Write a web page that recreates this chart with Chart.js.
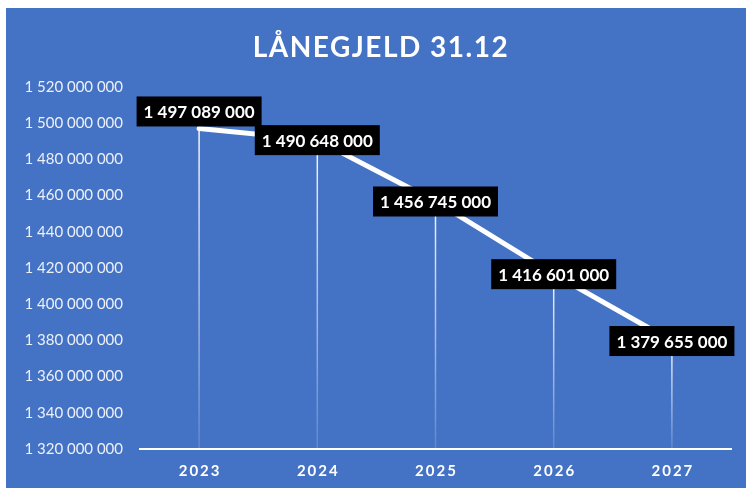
<!DOCTYPE html>
<html>
<head>
<meta charset="utf-8">
<script src="https://cdn.jsdelivr.net/npm/chart.js@4.4.0/dist/chart.umd.min.js"></script>
<style>
  html, body { margin: 0; padding: 0; background: #fff; }
</style>
</head>
<body>
<canvas id="chart" width="746" height="490"></canvas>
<script>
// Data
var chartTitle = 'LÅNEGJELD 31.12';
var years = ['2023', '2024', '2025', '2026', '2027'];
var debt = [1497089000, 1490648000, 1456745000, 1416601000, 1379655000];
var yTicks = [1320000000, 1340000000, 1360000000, 1380000000, 1400000000, 1420000000,
              1440000000, 1460000000, 1480000000, 1500000000, 1520000000];

// 1497089000 -> "1 497 089 000"
function fmt(v) {
    return v.toString().replace(/\B(?=(\d{3})+(?!\d))/g, ' ');
}

var FONT = 'Lato, "Open Sans", sans-serif';
var BLUE = '#4472C4';

// Background + title
var backdrop = {
    id: 'backdrop',
    beforeDraw: function(chart) {
        var ctx = chart.ctx;
        ctx.save();
        ctx.fillStyle = '#ffffff';
        ctx.fillRect(0, 0, chart.width, chart.height);
        ctx.fillStyle = BLUE;
        ctx.fillRect(6, 8, chart.width - 6, chart.height - 10);
        ctx.fillStyle = '#ffffff';
        ctx.font = 'bold 28px ' + FONT;
        ctx.letterSpacing = '1.5px';
        ctx.textAlign = 'center';
        ctx.textBaseline = 'alphabetic';
        ctx.fillText(chartTitle, 381, 57);
        ctx.restore();
    }
};

// Thin fading lines from each point down to the axis
var dropLines = {
    id: 'dropLines',
    beforeDatasetsDraw: function(chart) {
        var ctx = chart.ctx;
        var bottom = chart.chartArea.bottom;
        var meta = chart.getDatasetMeta(0);
        ctx.save();
        meta.data.forEach(function(pt) {
            var g = ctx.createLinearGradient(0, pt.y, 0, bottom);
            g.addColorStop(0, 'rgba(255,255,255,0.95)');
            g.addColorStop(1, 'rgba(255,255,255,0.15)');
            ctx.strokeStyle = g;
            ctx.lineWidth = 1.5;
            ctx.beginPath();
            ctx.moveTo(pt.x, pt.y);
            ctx.lineTo(pt.x, bottom);
            ctx.stroke();
        });
        ctx.restore();
    }
};

// Black boxed value labels
var valueLabels = {
    id: 'valueLabels',
    afterDatasetsDraw: function(chart) {
        var ctx = chart.ctx;
        var meta = chart.getDatasetMeta(0);
        var shift = [-17, 0, 0, 0, 0];
        ctx.save();
        ctx.font = 'bold 17px ' + FONT;
        ctx.textAlign = 'center';
        ctx.textBaseline = 'middle';
        meta.data.forEach(function(pt, i) {
            var txt = fmt(debt[i]);
            var w = ctx.measureText(txt).width + 14;
            var h = 30;
            var cy = pt.y + shift[i];
            ctx.fillStyle = '#000000';
            ctx.fillRect(pt.x - w / 2, cy - h / 2, w, h);
            ctx.fillStyle = '#ffffff';
            ctx.fillText(txt, pt.x, cy + 1);
        });
        ctx.restore();
    }
};

// Spaced bold year labels under the axis
var yearLabels = {
    id: 'yearLabels',
    afterDraw: function(chart) {
        var ctx = chart.ctx;
        var xs = chart.scales.x;
        ctx.save();
        ctx.font = 'bold 15px ' + FONT;
        ctx.letterSpacing = '2px';
        ctx.fillStyle = '#ffffff';
        ctx.textAlign = 'center';
        ctx.textBaseline = 'middle';
        years.forEach(function(y, i) {
            ctx.fillText(y, xs.getPixelForTick(i) + 1, 471);
        });
        ctx.restore();
    }
};

var ctx = document.getElementById('chart').getContext('2d');
new Chart(ctx, {
    type: 'line',
    data: {
        labels: years,
        datasets: [{
            label: 'Lånegjeld',
            data: debt,
            borderColor: '#ffffff',
            borderWidth: 5,
            borderCapStyle: 'round',
            pointRadius: 0,
            tension: 0
        }]
    },
    options: {
        responsive: false,
        animation: false,
        devicePixelRatio: 1,
        layout: { padding: { top: 87, right: 15, bottom: 0, left: 0 } },
        plugins: {
            legend: { display: false },
            tooltip: { enabled: false }
        },
        scales: {
            x: {
                offset: true,
                grid: { display: false, drawTicks: false },
                border: { display: true, color: '#ffffff', width: 2 },
                ticks: { display: false },
                afterFit: function(scale) { scale.height = 41; }
            },
            y: {
                min: yTicks[0],
                max: yTicks[yTicks.length - 1],
                grid: { display: false, drawTicks: false },
                border: { display: false },
                afterBuildTicks: function(scale) {
                    scale.ticks = yTicks.map(function(v) { return { value: v }; });
                },
                ticks: {
                    color: 'rgba(255,255,255,0.9)',
                    font: { family: FONT, size: 15 },
                    padding: 17,
                    callback: function(v) { return fmt(v); }
                },
                afterFit: function(scale) { scale.width = 140; }
            }
        }
    },
    plugins: [backdrop, dropLines, valueLabels, yearLabels]
});
</script>
</body>
</html>
